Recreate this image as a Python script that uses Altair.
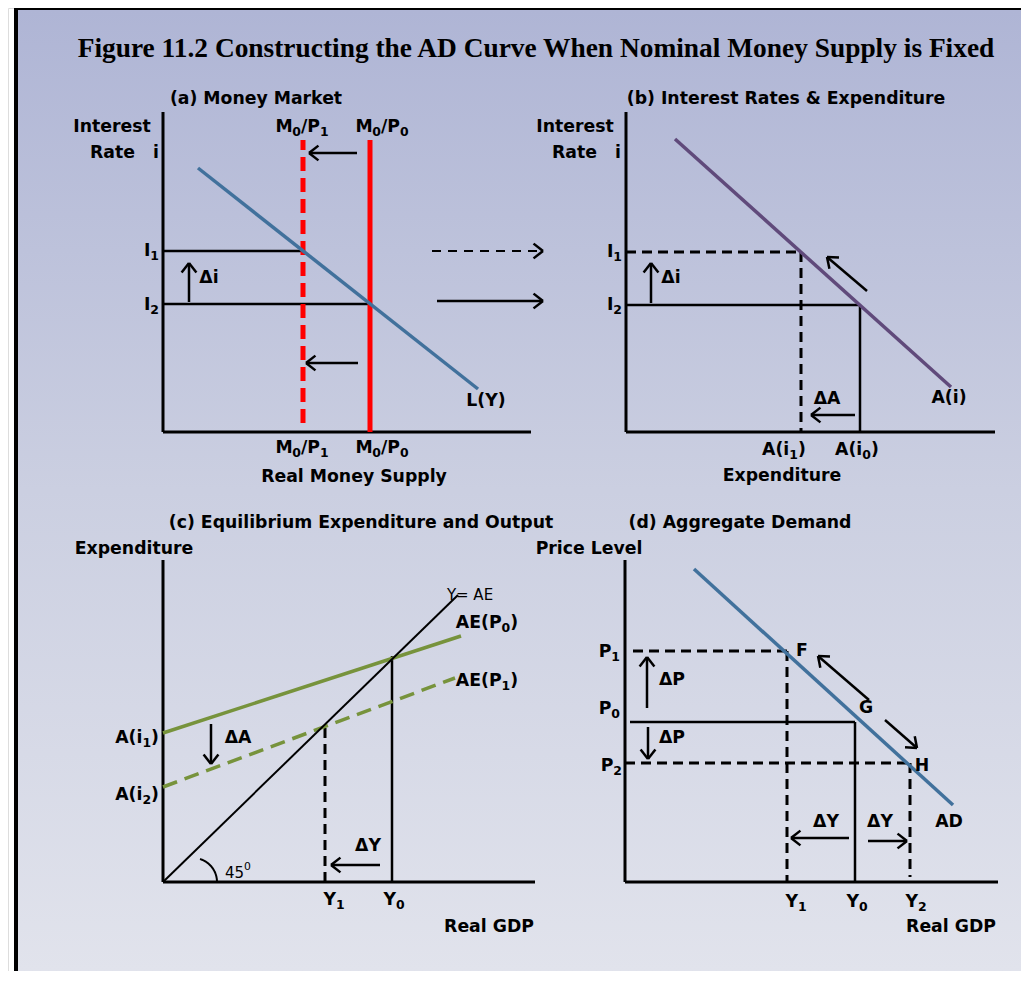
import math
import numpy as np
import pandas as pd
import altair as alt

# ------------------------------------------------------------------
# Diagram data, in each panel's own units (origin = corner of the axes,
# x to the right, y upwards).  Segments are (x1, y1, x2, y2).
# In labels, "_d" is a subscript character and "^d" a superscript one.
# ------------------------------------------------------------------
TITLE = "Figure 11.2 Constructing the AD Curve When Nominal Money Supply is Fixed"

# (a) Money market
a_axes = [(0, 0, 0, 320), (0, 0, 368, 0)]
a_LY = [(35, 264, 315, 43)]
a_supply_P0 = [(207, 0, 207, 292)]
a_supply_P1 = [(140, 9, 140, 292)]
a_rate_lines = [(0, 181, 140, 181), (0, 128, 207, 128)]
a_arrows = [(26, 130, 26, 169), (194, 279, 146, 279), (195, 69, 143, 69), (274, 131, 380, 131)]
a_arrows_dashed = [(269, 181, 380, 181)]
a_texts = [
    ("(a) Money Market", 93, 333, "lab"), ("Interest", -51, 305, "lab"),
    ("Rate", -28, 279, "labR"), ("i", -7, 279, "lab"),
    ("M_0/P_1", 139, 305, "lab"), ("M_0/P_0", 219, 305, "lab"),
    ("M_0/P_1", 139, -16, "lab"), ("M_0/P_0", 219, -16, "lab"),
    ("Real Money Supply", 191, -45, "lab"), ("L(Y)", 323, 31, "lab"),
    ("I_1", -4, 181, "labR"), ("I_2", -4, 127, "labR"), ("Δi", 46, 154, "lab"),
]

# (b) Interest rates & expenditure
b_axes = [(0, 0, 0, 320), (0, 0, 369, 0)]
b_Ai = [(49, 293, 325, 45)]
b_dashed = [(0, 180, 175, 180), (175, 180, 175, 0)]
b_solid = [(0, 127, 234, 127), (234, 127, 234, 0)]
b_arrows = [(25, 129, 25, 169), (241, 141, 201, 175), (229, 17, 185, 17)]
b_texts = [
    ("(b) Interest Rates & Expenditure", 160, 333, "lab"), ("Interest", -51, 305, "lab"),
    ("Rate", -29, 279, "labR"), ("i", -8, 279, "lab"),
    ("I_1", -4, 180, "labR"), ("I_2", -4, 127, "labR"), ("Δi", 45, 154, "lab"),
    ("ΔA", 201, 33, "lab"), ("A(i)", 323, 34, "lab"),
    ("A(i_1)", 158, -18, "lab"), ("A(i_0)", 231, -18, "lab"), ("Expenditure", 156, -44, "lab"),
]

# (c) Equilibrium expenditure and output
c_axes = [(0, 0, 0, 322), (0, 0, 372, 0)]
c_45 = [(0, 0, 295, 287)]
c_AE_P0 = [(0, 149, 298, 246)]
c_AE_P1 = [(0, 95, 292, 204)]
c_solid = [(229, 0, 229, 226)]
c_dashed = [(162, 0, 162, 155)]
c_arrows = [(48, 158, 48, 118), (217, 17, 168, 17)]
c_arc = (30, 0, 24, 0, 73)  # centre x, centre y, radius, start deg, end deg
c_texts = [
    ("(c) Equilibrium Expenditure and Output", 198, 359, "lab"), ("Expenditure", -29, 333, "lab"),
    ("Y= AE", 307, 287, "norm"), ("AE(P_0)", 324, 259, "lab"), ("AE(P_1)", 324, 201, "lab"),
    ("A(i_1)", -4, 144, "labR"), ("A(i_2)", -4, 87, "labR"), ("ΔA", 75, 144, "lab"),
    ("ΔY", 205, 36, "lab"), ("45^0", 75, 9, "norm"),
    ("Y_1", 171, -18, "lab"), ("Y_0", 231, -18, "lab"), ("Real GDP", 326, -45, "lab"),
]

# (d) Aggregate demand
d_axes = [(0, 0, 0, 322), (0, 0, 373, 0)]
d_AD = [(69, 313, 328, 77)]
d_dashed = [(8, 231, 162, 231), (162, 231, 162, 0), (0, 119, 285, 119), (285, 119, 285, 5)]
d_solid = [(5, 160, 230, 160), (230, 160, 230, 0)]
d_arrows = [(22, 174, 22, 225), (23, 155, 23, 123), (244, 182, 193, 226),
            (260, 162, 292, 134), (224, 44, 166, 44), (243, 41, 282, 41)]
d_texts = [
    ("(d) Aggregate Demand", 115, 359, "lab"), ("Price Level", -36, 333, "lab"),
    ("P_1", -5, 230, "labR"), ("P_0", -5, 173, "labR"), ("P_2", -3, 116, "labR"),
    ("F", 177, 231, "lab"), ("G", 241, 174, "lab"), ("H", 297, 116, "lab"),
    ("ΔP", 47, 202, "lab"), ("ΔP", 47, 144, "lab"),
    ("ΔY", 201, 60, "lab"), ("ΔY", 255, 60, "lab"), ("AD", 324, 60, "lab"),
    ("Y_1", 171, -20, "lab"), ("Y_0", 232, -20, "lab"), ("Y_2", 291, -20, "lab"),
    ("Real GDP", 326, -45, "lab"),
]

# ------------------------------------------------------------------
# Layout (page pixels of each panel's axis corner) and styles
# ------------------------------------------------------------------
PANEL_ORIGIN = {"a": (163, 432), "b": (626, 432), "c": (163, 882), "d": (625, 882)}
TITLE_POS = (536, 49)

LINE_STYLES = {
    "axis": ("black", 3, None),
    "thin": ("black", 2.5, None),
    "dash": ("black", 3, [10, 6]),
    "red": ("#FF0000", 5, None),
    "reddash": ("#FF0000", 5, [14, 7]),
    "blue": ("#41719C", 3.5, None),
    "purple": ("#604A7B", 3.5, None),
    "green": ("#77933C", 3.5, None),
    "greendash": ("#77933C", 3.5, [15, 8]),
    "line45": ("black", 2, None),
    "arrow": ("black", 2.5, None),
    "arrowdash": ("black", 2, [9, 7]),
}
# style -> (font, weight, size, align)
TEXT_STYLES = {
    "lab": ("DejaVu Sans", "bold", 17.3, "center"),
    "labR": ("DejaVu Sans", "bold", 17.3, "right"),
    "norm": ("DejaVu Sans", "normal", 15, "center"),
    "title": ("Liberation Serif", "bold", 27.4, "center"),
}
# approximate advance widths (em) of DejaVu Sans, used to place sub/superscripts
ADV_BOLD = {" ": 0.348, "/": 0.365, "A": 0.774, "E": 0.683, "I": 0.372, "M": 0.974,
            "P": 0.731, "Y": 0.726, "(": 0.457, ")": 0.457, "i": 0.343}
ADV_NORM = {" ": 0.318, "/": 0.337}
SUB_SCALE, SUB_DY, SUP_DY = 0.72, 5, -6
HEAD_LEN, HEAD_ANG = 12, 38


def to_page(panel, x, y):
    ox, oy = PANEL_ORIGIN[panel]
    return ox + x, oy - y


seg_rows = []


def add(panel, segs, style):
    for x1, y1, x2, y2 in segs:
        X1, Y1 = to_page(panel, x1, y1)
        X2, Y2 = to_page(panel, x2, y2)
        seg_rows.append(dict(x=X1, y=Y1, x2=X2, y2=Y2, style=style))


def add_arrows(panel, segs, style):
    add(panel, segs, style)
    for x1, y1, x2, y2 in segs:
        X1, Y1 = to_page(panel, x1, y1)
        X2, Y2 = to_page(panel, x2, y2)
        back = math.atan2(Y1 - Y2, X1 - X2)
        for s in (1, -1):
            a = back + s * math.radians(HEAD_ANG)
            seg_rows.append(dict(x=X2, y=Y2, x2=X2 + HEAD_LEN * math.cos(a),
                                 y2=Y2 + HEAD_LEN * math.sin(a), style="arrow"))


for p, axes in (("a", a_axes), ("b", b_axes), ("c", c_axes), ("d", d_axes)):
    add(p, axes, "axis")
add("a", a_rate_lines, "thin")
add("a", a_LY, "blue")
add("a", a_supply_P1, "reddash")
add("a", a_supply_P0, "red")
add_arrows("a", a_arrows, "arrow")
add_arrows("a", a_arrows_dashed, "arrowdash")
add("b", b_dashed, "dash")
add("b", b_solid, "thin")
add("b", b_Ai, "purple")
add_arrows("b", b_arrows, "arrow")
add("c", c_45, "line45")
add("c", c_solid, "thin")
add("c", c_dashed, "dash")
add("c", c_AE_P0, "green")
add("c", c_AE_P1, "greendash")
add_arrows("c", c_arrows, "arrow")
add("d", d_dashed, "dash")
add("d", d_solid, "thin")
add("d", d_AD, "blue")
add_arrows("d", d_arrows, "arrow")
segs_df = pd.DataFrame(seg_rows)

cx, cy, r, a0, a1 = c_arc
ang = np.radians(np.linspace(a0, a1, 30))
arc_pts = [to_page("c", cx + r * math.cos(t), cy + r * math.sin(t)) for t in ang]
arc_df = pd.DataFrame({"x": [p[0] for p in arc_pts], "y": [p[1] for p in arc_pts],
                       "i": list(range(len(arc_pts)))})


def runs_of(s):
    runs, i = [], 0
    while i < len(s):
        if s[i] in "_^" and i + 1 < len(s):
            kind = "sub" if s[i] == "_" else "sup"
            runs.append([s[i + 1], kind])
            i += 2
        else:
            if runs and runs[-1][1] == "base":
                runs[-1][0] += s[i]
            else:
                runs.append([s[i], "base"])
            i += 1
    return runs


def width_of(txt, weight, size):
    table = ADV_BOLD if weight == "bold" else ADV_NORM
    dig = 0.696 if weight == "bold" else 0.636
    return sum(table.get(ch, dig if ch.isdigit() else 0.6) for ch in txt) * size


text_rows = []


def add_text(X, Y, s, style):
    font, weight, size, align = TEXT_STYLES[style]
    if "_" not in s and "^" not in s:
        text_rows.append(dict(x=X, y=Y, text=s, font=font, weight=weight, size=size, align=align))
        return
    runs = runs_of(s)
    widths = [width_of(t, weight, size * (1 if k == "base" else SUB_SCALE)) for t, k in runs]
    total = sum(widths)
    start = X - total / 2 if align == "center" else (X - total if align == "right" else X)
    for (t, k), w in zip(runs, widths):
        sz = size if k == "base" else size * SUB_SCALE
        dy = {"base": 0, "sub": SUB_DY, "sup": SUP_DY}[k]
        text_rows.append(dict(x=start, y=Y + dy, text=t, font=font, weight=weight, size=sz, align="left"))
        start += w


for p, items in (("a", a_texts), ("b", b_texts), ("c", c_texts), ("d", d_texts)):
    for t, x, y, st in items:
        X, Y = to_page(p, x, y)
        add_text(X, Y, t, st)
add_text(TITLE_POS[0], TITLE_POS[1], TITLE, "title")
text_df = pd.DataFrame(text_rows)

# ------------------------------------------------------------------
# Chart
# ------------------------------------------------------------------
W, H = 1013, 963
XS = alt.Scale(domain=[8, 8 + W], nice=False, zero=False)
YS = alt.Scale(domain=[8, 8 + H], nice=False, zero=False, reverse=True)

bg_grad = alt.LinearGradient(
    gradient="linear", x1=0, x2=0, y1=0, y2=1,
    stops=[alt.GradientStop(color="#AFB5D5", offset=0),
           alt.GradientStop(color="#CBCFE1", offset=0.5),
           alt.GradientStop(color="#E1E3EC", offset=1)])
dummy = pd.DataFrame({"k": [0]})
background = alt.Chart(dummy).mark_rect(color=bg_grad).encode(
    x=alt.value(10), x2=alt.value(W), y=alt.value(2), y2=alt.value(H))
border_left = alt.Chart(dummy).mark_rect(color="black").encode(
    x=alt.value(6), x2=alt.value(10), y=alt.value(0), y2=alt.value(H))
border_top = alt.Chart(dummy).mark_rect(color="black").encode(
    x=alt.value(6), x2=alt.value(W), y=alt.value(0), y2=alt.value(2))

layers = [background, border_left, border_top]
for st, (col, w, dash) in LINE_STYLES.items():
    sub = segs_df[segs_df["style"] == st]
    if sub.empty:
        continue
    kw = dict(color=col, strokeWidth=w)
    if dash:
        kw["strokeDash"] = dash
    layers.append(alt.Chart(sub).mark_rule(**kw).encode(
        x=alt.X("x:Q", scale=XS, axis=None), y=alt.Y("y:Q", scale=YS, axis=None),
        x2="x2:Q", y2="y2:Q"))

layers.append(alt.Chart(arc_df).mark_line(color="black", strokeWidth=2).encode(
    x=alt.X("x:Q", scale=XS, axis=None), y=alt.Y("y:Q", scale=YS, axis=None), order="i:Q"))

for (font, weight, align), sub in text_df.groupby(["font", "weight", "align"]):
    layers.append(alt.Chart(sub).mark_text(
        baseline="middle", color="black", font=font, fontWeight=weight, align=align).encode(
        x=alt.X("x:Q", scale=XS, axis=None), y=alt.Y("y:Q", scale=YS, axis=None),
        text="text:N", size=alt.Size("size:Q", scale=None)))

chart = alt.layer(*layers).properties(
    width=W, height=H, padding=0, autosize=alt.AutoSizeParams(type="none"),
).configure_view(stroke=None).configure(background="white")

chart.save("out.html", embed_options={"renderer": "svg", "actions": False})
